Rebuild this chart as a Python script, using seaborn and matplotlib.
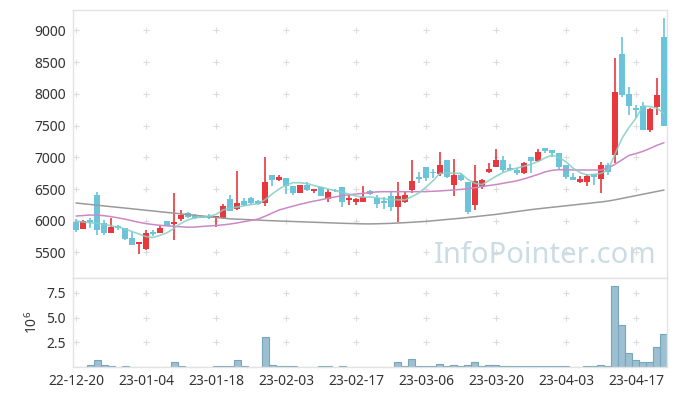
"""
Daily candlestick chart with moving averages and volume panel
"""

import numpy as np
import pandas as pd
import matplotlib
matplotlib.use("Agg")
import matplotlib.pyplot as plt
import seaborn as sns

# tick labels every 10 trading days
tick_labels = ["22-12-20", "23-01-04", "23-01-18", "23-02-03", "23-02-17",
               "23-03-06", "23-03-20", "23-04-03", "23-04-17"]

opens = [5985, 5874, 6011, 6406, 5969, 5801, 5917, 5880, 5723, 5633,
         5549, 5827, 5801, 5996, 5948, 6027, 6117, 6085, 6080, 6070,
         6048, 6038, 6338, 6185, 6311, 6353, 6311, 6275, 6721, 6642,
         6669, 6547, 6442, 6563, 6470, 6537, 6342, 6480, 6537, 6327,
         6300, 6300, 6470, 6353, 6316, 6390, 6221, 6300, 6484, 6685,
         6852, 6775, 6732, 6957, 6563, 6721, 6615, 6248, 6547, 6773,
         6852, 6957, 6836, 6800, 6757, 7000, 6946, 7142, 7115, 7063,
         6879, 6685, 6615, 6615, 6737, 6658, 6879, 7036, 8629, 7998,
         7773, 7809, 7430, 7788, 8892]
highs = [6027, 6011, 6048, 6448, 6011, 6038, 5930, 5890, 5827, 5669,
         5854, 5854, 5917, 5996, 6442, 6169, 6140, 6100, 6090, 6100,
         6074, 6260, 6406, 6789, 6364, 6380, 6330, 7000, 6721, 6720,
         6680, 6547, 6563, 6610, 6500, 6537, 6500, 6500, 6537, 6410,
         6360, 6540, 6490, 6400, 6380, 6470, 6605, 6460, 6957, 6770,
         6852, 6810, 7079, 6957, 6968, 6750, 6615, 6879, 6660, 6910,
         7126, 7020, 6900, 6830, 6930, 7000, 7126, 7142, 7115, 7063,
         6879, 6748, 6705, 6737, 6737, 6930, 6915, 8561, 8892, 8104,
         7825, 7877, 7773, 8246, 9192]
lows = [5827, 5865, 5880, 5775, 5775, 5801, 5854, 5696, 5617, 5475,
        5538, 5759, 5801, 5917, 5696, 6000, 6040, 6030, 6040, 6020,
        5896, 6030, 6158, 6170, 6232, 6248, 6250, 6232, 6550, 6620,
        6420, 6400, 6442, 6470, 6430, 6395, 6290, 6460, 6220, 6250,
        6250, 6290, 6400, 6200, 6180, 6160, 5980, 6280, 6440, 6600,
        6620, 6670, 6710, 6670, 6390, 6620, 6110, 6170, 6500, 6750,
        6852, 6770, 6790, 6720, 6740, 6748, 6930, 7063, 7010, 6810,
        6653, 6642, 6590, 6547, 6563, 6442, 6721, 6915, 7946, 7667,
        7615, 7430, 7404, 7667, 7494]
closes = [5854, 5996, 5980, 5854, 5811, 5906, 5880, 5707, 5617, 5669,
          5801, 5790, 5880, 5917, 5985, 6090, 6054, 6048, 6050, 6040,
          6074, 6232, 6158, 6284, 6248, 6275, 6264, 6606, 6642, 6685,
          6547, 6442, 6563, 6484, 6500, 6395, 6448, 6470, 6300, 6363,
          6340, 6379, 6420, 6264, 6284, 6212, 6390, 6405, 6626, 6658,
          6669, 6748, 6880, 6685, 6721, 6642, 6142, 6626, 6642, 6810,
          6957, 6800, 6800, 6748, 6905, 6946, 7088, 7104, 7073, 6842,
          6694, 6642, 6658, 6705, 6685, 6879, 6773, 8035, 7982, 7809,
          7746, 7430, 7757, 7982, 7494]

ma5 = [5996, 5980, 5969, 5960, 5945, 5920, 5900, 5870, 5830, 5790,
       5750, 5735, 5770, 5810, 5880, 5960, 6015, 6045, 6060, 6070,
       6100, 6170, 6195, 6215, 6235, 6255, 6270, 6330, 6420, 6500,
       6560, 6600, 6600, 6585, 6555, 6530, 6500, 6475, 6450, 6420,
       6390, 6370, 6375, 6360, 6345, 6335, 6330, 6330, 6380, 6440,
       6530, 6630, 6748, 6750, 6750, 6745, 6650, 6590, 6570, 6635,
       6700, 6760, 6800, 6830, 6860, 6890, 6935, 6990, 7035, 7000,
       6930, 6830, 6760, 6721, 6730, 6748, 6800, 7050, 7300, 7470,
       7620, 7809, 7800, 7773, 7694]
ma20 = [6074, 6082, 6090, 6088, 6080, 6065, 6045, 6025, 6000, 5975,
        5955, 5940, 5928, 5920, 5912, 5905, 5898, 5900, 5910, 5917,
        5925, 5935, 5948, 5965, 5985, 6005, 6027, 6070, 6120, 6169,
        6200, 6230, 6260, 6285, 6310, 6330, 6355, 6375, 6395, 6410,
        6421, 6432, 6445, 6455, 6458, 6458, 6458, 6458, 6458, 6458,
        6460, 6465, 6470, 6478, 6485, 6495, 6505, 6520, 6540, 6555,
        6570, 6590, 6610, 6630, 6660, 6694, 6730, 6770, 6795, 6805,
        6805, 6800, 6800, 6800, 6800, 6800, 6830, 6890, 6960, 7030,
        7060, 7095, 7140, 7190, 7230]
ma60 = [6280, 6268, 6257, 6245, 6234, 6222, 6211, 6200, 6188, 6177,
        6165, 6154, 6142, 6131, 6120, 6108, 6097, 6086, 6075, 6063,
        6052, 6041, 6030, 6025, 6020, 6015, 6010, 6005, 6000, 5996,
        5992, 5988, 5984, 5980, 5976, 5972, 5968, 5964, 5960, 5957,
        5954, 5951, 5950, 5952, 5955, 5959, 5964, 5970, 5976, 5983,
        5990, 6000, 6010, 6020, 6030, 6040, 6052, 6064, 6076, 6088,
        6100, 6115, 6130, 6145, 6160, 6175, 6188, 6200, 6212, 6224,
        6236, 6248, 6260, 6272, 6284, 6296, 6310, 6330, 6352, 6374,
        6396, 6418, 6440, 6462, 6484]

# volume in millions of shares
volume = [0.0, 0.0, 0.2, 0.7, 0.2, 0.1, 0.0, 0.1, 0.0, 0.0,
          0.0, 0.0, 0.0, 0.0, 0.5, 0.1, 0.0, 0.0, 0.0, 0.0,
          0.1, 0.1, 0.1, 0.7, 0.1, 0.0, 0.0, 3.0, 0.2, 0.1,
          0.1, 0.1, 0.0, 0.0, 0.0, 0.1, 0.1, 0.0, 0.1, 0.0,
          0.0, 0.0, 0.0, 0.0, 0.0, 0.0, 0.5, 0.1, 0.8, 0.1,
          0.1, 0.1, 0.3, 0.1, 0.2, 0.1, 0.2, 0.5, 0.1, 0.2,
          0.2, 0.1, 0.1, 0.1, 0.1, 0.1, 0.1, 0.1, 0.1, 0.1,
          0.1, 0.0, 0.0, 0.1, 0.1, 0.2, 0.1, 8.2, 4.2, 1.4,
          0.7, 0.5, 0.5, 2.0, 3.3]

RED = "#e8383d"
BLUE = "#6cc4da"
GRID = "#dcdcdc"
SPINE = "#e3e3e3"

sns.set_style("white")
plt.rcParams["font.family"] = ["Noto Sans", "DejaVu Sans"]
plt.rcParams["mathtext.default"] = "regular"

df = pd.DataFrame({"open": opens, "high": highs, "low": lows, "close": closes,
                   "ma5": ma5, "ma20": ma20, "ma60": ma60, "vol": volume})
df["idx"] = np.arange(len(df))
up = df["close"] >= df["open"]
colors = np.where(up, RED, BLUE)

W, H = 677, 396
fig = plt.figure(figsize=(W / 100, H / 100), dpi=100)
ax = fig.add_axes([73 / W, 1 - 278 / H, (667 - 73) / W, (278 - 10) / H])
axv = fig.add_axes([73 / W, 1 - 367 / H, (667 - 73) / W, (367 - 278) / H])

xticks = np.arange(0, len(df), 10)

# grid drawn as small crosses at tick intersections
yticks = np.arange(5500, 9001, 500)
gx, gy = np.meshgrid(xticks, yticks)
ax.scatter(gx.ravel(), gy.ravel(), marker="+", s=16, c=GRID, linewidths=0.8, zorder=0)

# candles
body = (df["close"] - df["open"]).abs().clip(lower=12)
ax.vlines(df["idx"], df["low"], df["high"], colors=colors, linewidth=1.2, zorder=2)
ax.bar(df["idx"], body, bottom=np.minimum(df["open"], df["close"]), width=0.72,
       color=colors, linewidth=0, zorder=3)

# moving averages
sns.lineplot(data=df, x="idx", y="ma60", ax=ax, color="#9a9a9a", linewidth=1.1, zorder=4)
sns.lineplot(data=df, x="idx", y="ma20", ax=ax, color="#cc88c6", linewidth=1.1, zorder=4)
sns.lineplot(data=df, x="idx", y="ma5", ax=ax, color="#86cfc4", linewidth=1.2, alpha=0.85, zorder=5)

ax.text(0.983, 0.03, "InfoPointer.com", transform=ax.transAxes, ha="right", va="bottom",
        fontsize=21, color="#cbdce5", zorder=1)

ax.set_xlim(-0.43, len(df) - 0.57)
ax.set_ylim(5097, 9323)
ax.set_yticks(yticks)
ax.set_xticks(xticks)
ax.set_xticklabels([])
ax.set_xlabel("")
ax.set_ylabel("")

# volume panel
sns.barplot(data=df, x="idx", y="vol", ax=axv, color="#9cc0d1", edgecolor="#78a5bc",
            linewidth=0.8, width=1.0, saturation=1, errorbar=None)
vy = [2.5, 5.0, 7.5]
vx, vyy = np.meshgrid(xticks, vy)
axv.scatter(vx.ravel(), vyy.ravel(), marker="+", s=16, c=GRID, linewidths=0.8, zorder=0)
axv.set_xlim(-0.43, len(df) - 0.57)
axv.set_ylim(0, 9.0)
axv.set_yticks(vy)
axv.set_yticklabels(["2.5", "5.0", "7.5"])
axv.set_xticks(xticks)
axv.set_xticklabels(tick_labels)
axv.set_xlabel("")
axv.set_ylabel("$10^6$", fontsize=10, color="#333333", labelpad=4)

for a in (ax, axv):
    a.tick_params(length=0, labelsize=10, colors="#333333", pad=5)
    for s in a.spines.values():
        s.set_color(SPINE)
        s.set_linewidth(1.0)

fig.savefig("out.png", dpi=100)
